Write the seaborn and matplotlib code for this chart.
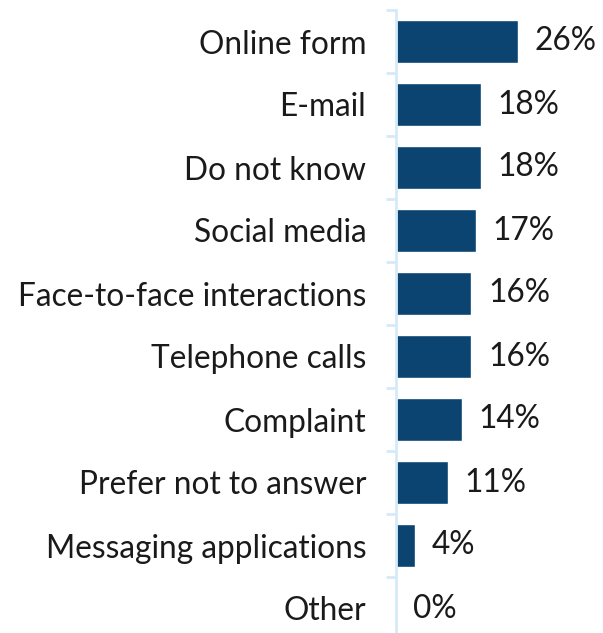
import matplotlib
matplotlib.use("Agg")
import matplotlib.pyplot as plt
import seaborn as sns
import pandas as pd
import numpy as np

categories = ["Online form", "E-mail", "Do not know", "Social media",
              "Face-to-face interactions", "Telephone calls", "Complaint",
              "Prefer not to answer", "Messaging applications", "Other"]
values = [26, 18, 18, 17, 16, 16, 14, 11, 4, 0]

sns.set_theme(style="white")
plt.rcParams['font.family'] = ['Lato', 'DejaVu Sans']

df = pd.DataFrame({"cat": categories, "val": values})

W, H = 603, 633
fig = plt.figure(figsize=(W / 100, H / 100), dpi=100)
ax_left = 396 / W
ax_w = 30 * 4.7 / W
ax = fig.add_axes([ax_left, -7 / H, ax_w, 630 / H])

sns.barplot(data=df, x="val", y="cat", color="#0b4470", width=0.67,
            saturation=1, ax=ax, orient="h")

ax.set_xlim(0, 30)
ax.set_ylim(9.5, -0.5)
ax.set_xlabel("")
ax.set_ylabel("")
ax.set_xticks([])
for s in ["top", "right", "bottom"]:
    ax.spines[s].set_visible(False)
ax.spines["left"].set_color("#d5eaf8")
ax.spines["left"].set_linewidth(2)

ax.set_yticks(range(len(categories)))
ax.set_yticklabels(categories, fontsize=22.8, color="#1a1a1a")
ax.tick_params(axis="y", which="major", length=0, pad=21.5, left=True)
ax.set_yticks(np.arange(-0.5, len(categories), 1.0), minor=True)
ax.tick_params(axis="y", which="minor", length=7.5, width=2, color="#d5eaf8",
               left=True)

for i, v in enumerate(values):
    ax.annotate(f"{v}%", xy=(v, i), xytext=(12, 0), textcoords="offset points",
                va="center", ha="left", fontsize=22.8, color="#1a1a1a",
                annotation_clip=False)

fig.savefig("out.png", dpi=100)
